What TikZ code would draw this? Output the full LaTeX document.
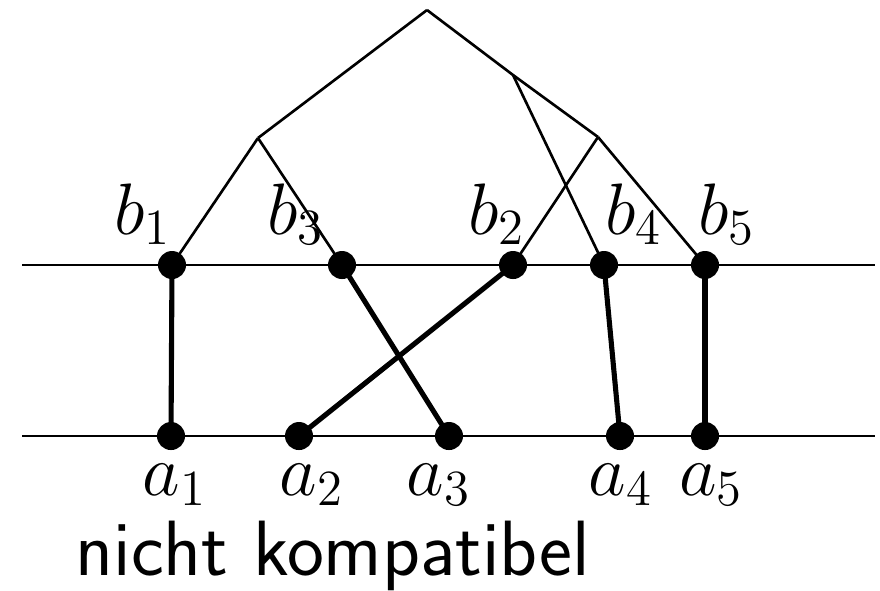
\documentclass[tikz,border=0pt]{standalone}
\usepackage{tikz}
\usetikzlibrary{positioning}

\begin{document}
\begin{tikzpicture}[x=0.01cm, y=-0.01cm,
  dot/.style={circle, fill=black, inner sep=0pt, minimum size=0.28cm},
  tr/.style={draw=black, line width=0.75pt},
  mt/.style={draw=black, line width=1.45pt},
  lbl/.style={anchor=base, inner sep=0pt, font=\fontsize{20.5}{24}\selectfont}]
\useasboundingbox (0,0) rectangle (880,590);
% tree above the upper line
\coordinate (root) at (427,10);
\coordinate (lft) at (258,138);
\coordinate (mid) at (513,75);
\coordinate (rgt) at (598,137);
% the two lines
\coordinate (ul) at (22,265);
\coordinate (ur) at (875,265);
\coordinate (ll) at (22,436);
\coordinate (lr) at (875,436);
\draw[tr] (ul) -- (ur);
\draw[tr] (ll) -- (lr);
\node[dot] (b1) at (172,265) {};
\node[dot] (b3) at (342,265) {};
\node[dot] (b2) at (513,265) {};
\node[dot] (b4) at (604,265) {};
\node[dot] (b5) at (705,265) {};
\node[dot] (a1) at (171,436) {};
\node[dot] (a2) at (299,436) {};
\node[dot] (a3) at (449,436) {};
\node[dot] (a4) at (620,436) {};
\node[dot] (a5) at (705,436) {};
\draw[tr] (root) -- (lft);
\draw[tr] (root) -- (mid) -- (rgt);
\draw[tr] (lft) -- (b1.center);
\draw[tr] (lft) -- (b3.center);
\draw[tr] (rgt) -- (b2.center);
\draw[tr] (rgt) -- (b5.center);
\draw[tr] (mid) -- (b4.center);
% matching
\draw[mt] (b1.center) -- (a1.center);
\draw[mt] (b3.center) -- (a3.center);
\draw[mt] (b2.center) -- (a2.center);
\draw[mt] (b4.center) -- (a4.center);
\draw[mt] (b5.center) -- (a5.center);
% labels
\node[lbl] (lb1) at (143,234) {$b_1$};
\node[lbl] (lb3) at (296,234) {$b_3$};
\node[lbl] (lb2) at (497,234) {$b_2$};
\node[lbl] (lb4) at (634,234) {$b_4$};
\node[lbl] (lb5) at (727,234) {$b_5$};
\node[lbl] (la1) at (175,495) {$a_1$};
\node[lbl] (la2) at (312,495) {$a_2$};
\node[lbl] (la3) at (439,495) {$a_3$};
\node[lbl] (la4) at (621,495) {$a_4$};
\node[lbl] (la5) at (711,495) {$a_5$};
\node[anchor=base west, inner sep=0pt, font=\sffamily\fontsize{22.3}{26}\selectfont] (cap) at (75,575) {nicht kompatibel};
\end{tikzpicture}
\end{document}
